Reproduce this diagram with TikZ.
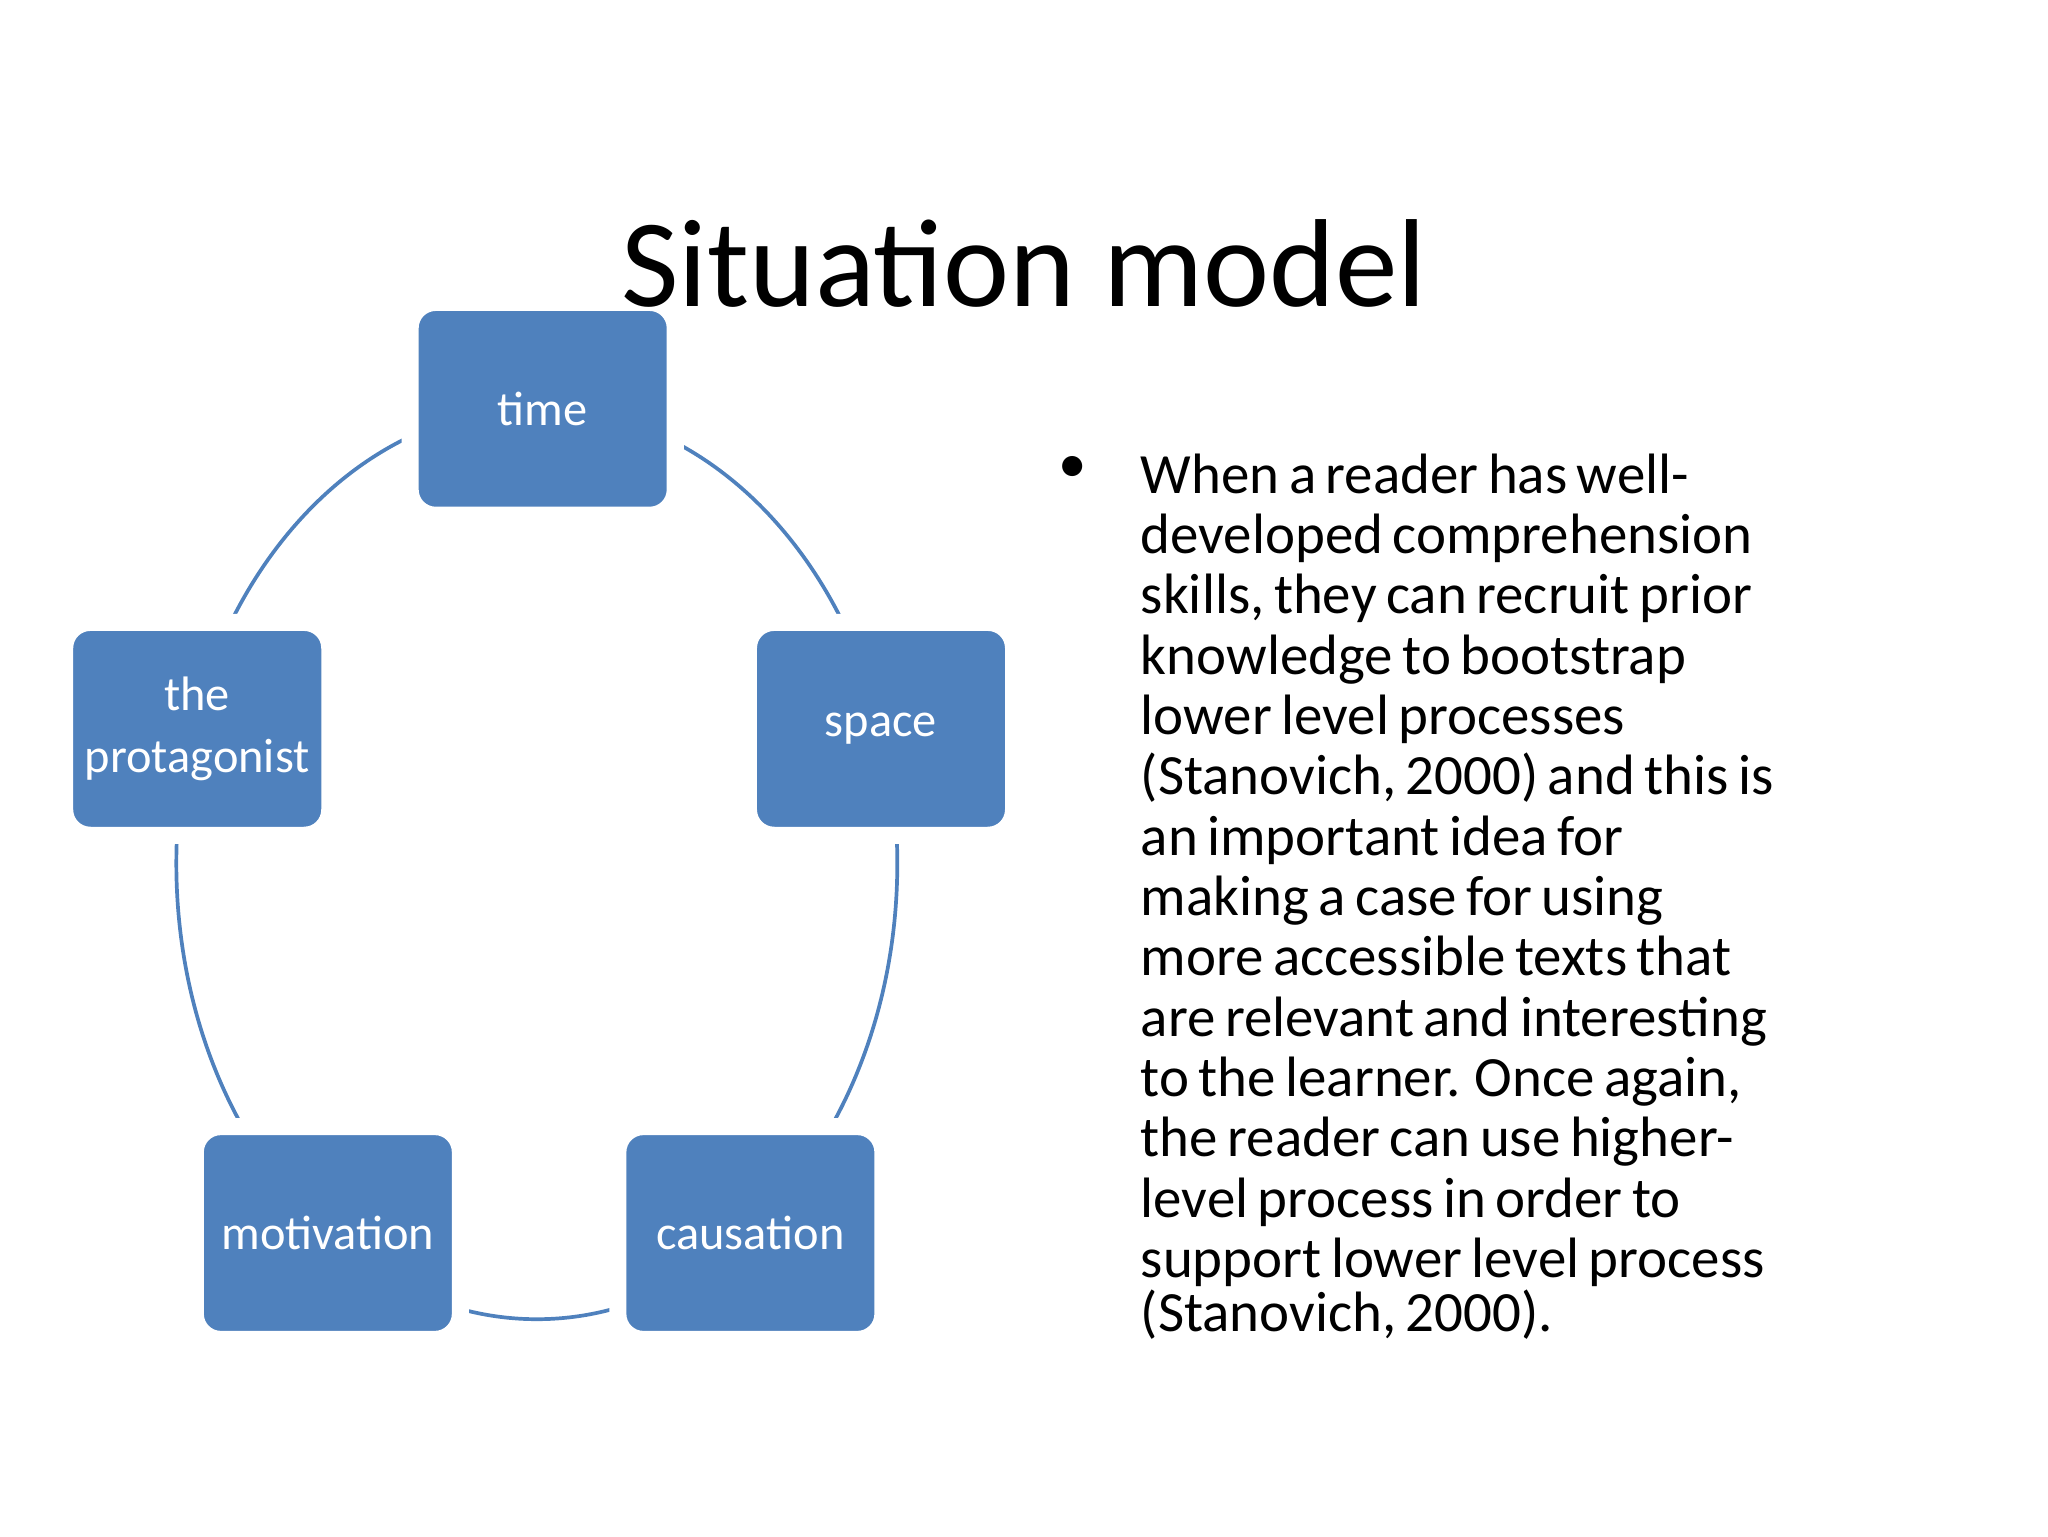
\documentclass[tikz,border=0pt]{standalone}
\usepackage{fontspec}
\setmainfont{Carlito}
\begin{document}
\begin{tikzpicture}[x=0.459pt,y=-0.459pt,
 box/.style={fill=boxblue,draw=white,line width=6pt,rounded corners=9pt,text=white,font=\fontsize{17}{22}\selectfont,align=center,minimum width=203*0.459pt,minimum height=163*0.459pt,inner sep=0pt}]
\definecolor{boxblue}{HTML}{4F81BD}
\useasboundingbox (0,0) rectangle (1568,1176);
\draw[boxblue,line width=1.3pt] (411,661) ellipse [x radius=276, y radius=349];
\node[box] (time) at (415.5,313) {time};
\node[box] (space) at (674.5,558) {space};
\node[box] (prot) at (151,558) {the\\protagonist};
\node[box] (mot) at (251,944) {motivation};
\node[box] (cau) at (574.5,944) {causation};
\node[anchor=base] (title) at (784,235) {\fontsize{44}{50}\selectfont Situation model};
\node[anchor=north west,inner sep=0pt,align=left,text width=560*0.459pt] (txt) at (873,347)
 {\fontsize{20}{21.2}\selectfont When a reader has well-\\developed comprehension\\skills, they can recruit prior\\knowledge to bootstrap\\lower level processes\\(Stanovich, 2000) and this is\\an important idea for\\making a case for using\\more accessible texts that\\are relevant and interesting\\to the learner. Once again,\\the reader can use higher-\\level process in order to\\support lower level process\\(Stanovich, 2000).};
\node[anchor=north,inner sep=0pt] (bul) at (821,349) {\fontsize{20}{21}\selectfont •};
\end{tikzpicture}
\end{document}
